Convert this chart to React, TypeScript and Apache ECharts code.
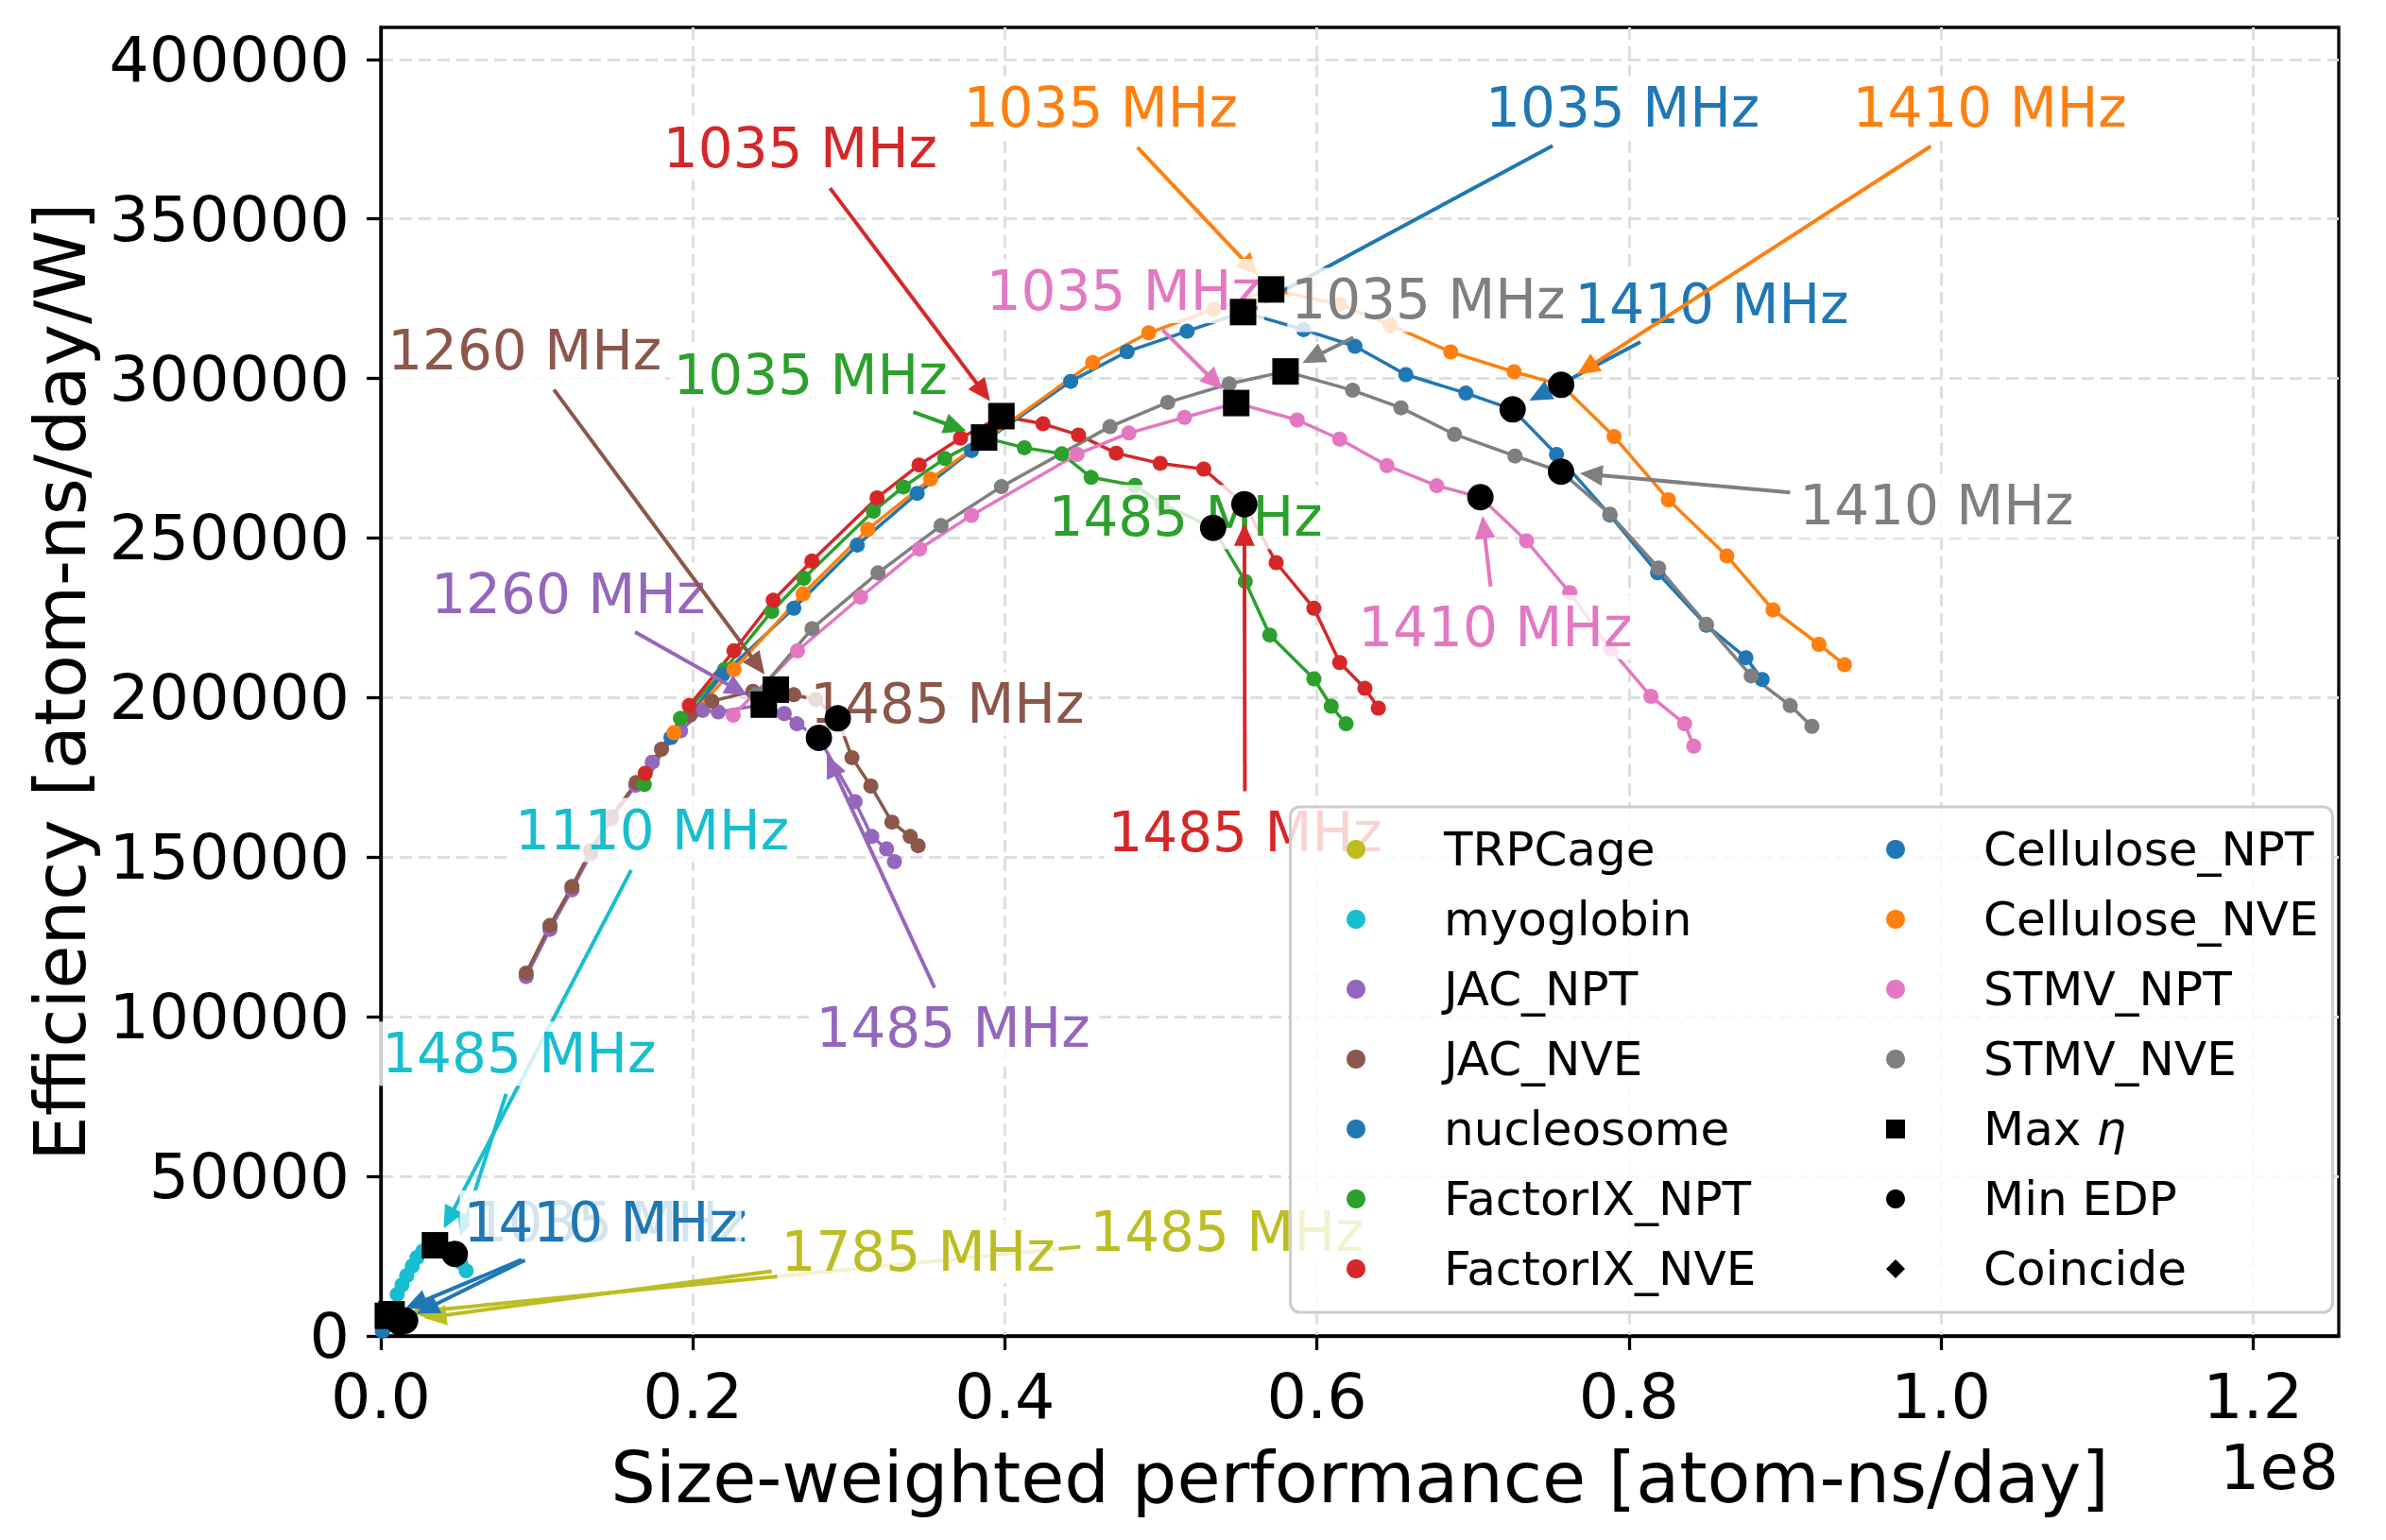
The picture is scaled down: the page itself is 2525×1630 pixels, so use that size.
import React, { useEffect, useRef } from 'react';
import * as echarts from 'echarts';

const FONT = '"DejaVu Sans", "Liberation Sans", sans-serif';

// ---- datasets (performance in units of 1e8 atom-ns/day, efficiency in atom-ns/day/W)
const DATASETS = ['TRPCage', 'myoglobin', 'JAC_NPT', 'JAC_NVE', 'nucleosome', 'FactorIX_NPT', 'FactorIX_NVE', 'Cellulose_NPT', 'Cellulose_NVE', 'STMV_NPT', 'STMV_NVE'];
const COLORS = ['#bcbd22', '#17becf', '#9467bd', '#8c564b', '#1f77b4', '#2ca02c', '#d62728', '#1f77b4', '#ff7f0e', '#e377c2', '#7f7f7f'];

const trpcagePerf = [0.0015, 0.003, 0.0045, 0.0058, 0.0069, 0.008, 0.0095, 0.011, 0.0125, 0.014, 0.0156, 0.017, 0.018];
const trpcageEff = [2000, 3500, 5000, 6000, 6800, 6700, 6400, 6000, 5600, 5200, 4800, 4300, 3900];

const myoglobinPerf = [0.0105, 0.0136, 0.0166, 0.0202, 0.0232, 0.0269, 0.0305, 0.0347, 0.039, 0.0432, 0.0474, 0.0511, 0.0547];
const myoglobinEff = [13000, 16000, 18900, 21900, 24600, 26600, 27800, 28400, 28100, 27200, 25700, 23100, 20400];

const jacNptPerf = [0.0932, 0.1084, 0.1225, 0.1346, 0.1477, 0.1634, 0.174, 0.1921, 0.2062, 0.2163, 0.2455, 0.2586, 0.2667, 0.2808, 0.304, 0.3147, 0.3242, 0.3292];
const jacNptEff = [112600, 127400, 139800, 151100, 162000, 172600, 179800, 189600, 196000, 195500, 197800, 195000, 191800, 187400, 167400, 156500, 152600, 148600];

const jacNvePerf = [0.0932, 0.1084, 0.1225, 0.1346, 0.1479, 0.1637, 0.1799, 0.1982, 0.2122, 0.2385, 0.2532, 0.2647, 0.2788, 0.2929, 0.302, 0.3141, 0.3276, 0.3393, 0.3444];
const jacNveEff = [113700, 128600, 140800, 152100, 162700, 173400, 183800, 194500, 198900, 202000, 202500, 200900, 199400, 193500, 181200, 172300, 161000, 156500, 153600];

const nucleosomePerf = [0.001, 0.002, 0.003, 0.0045, 0.006, 0.008, 0.01, 0.012, 0.0135];
const nucleosomeEff = [1500, 3000, 4800, 6300, 6000, 5500, 5000, 4300, 3600];

const fixNptPerf = [0.1689, 0.1921, 0.2203, 0.2506, 0.2711, 0.3157, 0.3349, 0.3615, 0.3867, 0.4125, 0.4365, 0.4553, 0.4835, 0.5007, 0.5335, 0.5541, 0.5698, 0.5981, 0.6092, 0.6187];
const fixNptEff = [172800, 193500, 208800, 227000, 237400, 258400, 266000, 274900, 281500, 278300, 276400, 269000, 266500, 260700, 253200, 236400, 219600, 205900, 197300, 191800];

const fixNvePerf = [0.1695, 0.1977, 0.2264, 0.2515, 0.2763, 0.3181, 0.345, 0.3716, 0.3978, 0.4244, 0.4472, 0.4714, 0.4996, 0.5275, 0.5535, 0.5739, 0.5981, 0.6146, 0.6308, 0.6394];
const fixNveEff = [176300, 197500, 214700, 230500, 242800, 262600, 272900, 281300, 288200, 285800, 282300, 276600, 273400, 271600, 260600, 242300, 228000, 211000, 202900, 196700];

const celNptPerf = [0.186, 0.2193, 0.2647, 0.3054, 0.3438, 0.3786, 0.4422, 0.4783, 0.5168, 0.5527, 0.5914, 0.6244, 0.657, 0.6955, 0.7255, 0.7536, 0.7878, 0.8184, 0.8496, 0.875, 0.8854];
const celNptEff = [187500, 207300, 228000, 247800, 264000, 277400, 299100, 308400, 314800, 320800, 315300, 310100, 301200, 295400, 290300, 276200, 257200, 239100, 222700, 212500, 205700];

const celNvePerf = [0.188, 0.2264, 0.2707, 0.3121, 0.3524, 0.4563, 0.4922, 0.534, 0.5707, 0.6146, 0.6471, 0.6858, 0.7264, 0.7566, 0.7905, 0.8253, 0.8628, 0.8924, 0.9218, 0.9382];
const celNveEff = [189000, 208800, 232500, 252700, 268500, 305000, 314300, 321700, 327900, 323200, 316800, 308300, 302100, 298000, 281800, 262000, 244400, 227500, 216700, 210300];

const stmvNptPerf = [0.2259, 0.2671, 0.3075, 0.3453, 0.3786, 0.4462, 0.4795, 0.5152, 0.5483, 0.5874, 0.6146, 0.6449, 0.6768, 0.7048, 0.7344, 0.7621, 0.7881, 0.8141, 0.8357, 0.8416];
const stmvNptEff = [194500, 214700, 231500, 246600, 257100, 276200, 282900, 287800, 292300, 287000, 281000, 272700, 266400, 262800, 249100, 232900, 215300, 200400, 191800, 184800];

const stmvNvePerf = [0.2405, 0.2764, 0.3187, 0.3591, 0.3978, 0.4674, 0.5044, 0.5438, 0.5799, 0.6229, 0.6539, 0.6882, 0.727, 0.7565, 0.7878, 0.819, 0.8496, 0.8784, 0.9034, 0.9173];
const stmvNveEff = [200900, 221600, 239100, 253900, 266100, 284900, 292500, 298300, 302200, 296300, 290800, 282500, 275700, 270800, 257500, 240600, 223000, 206800, 197500, 191000];

const PERF = [trpcagePerf, myoglobinPerf, jacNptPerf, jacNvePerf, nucleosomePerf, fixNptPerf, fixNvePerf, celNptPerf, celNvePerf, stmvNptPerf, stmvNvePerf];
const EFF = [trpcageEff, myoglobinEff, jacNptEff, jacNveEff, nucleosomeEff, fixNptEff, fixNveEff, celNptEff, celNveEff, stmvNptEff, stmvNveEff];

// index of the Max eta point and of the Min EDP point in each dataset
const MAX_ETA_IDX = [4, 7, 10, 10, 3, 8, 8, 9, 8, 8, 8];
const MIN_EDP_IDX = [10, 10, 13, 13, 7, 14, 14, 14, 13, 13, 13];
const MAX_ETA_FREQ = ['1485 MHz', '1110 MHz', '1260 MHz', '1260 MHz', '1035 MHz', '1035 MHz', '1035 MHz', '1035 MHz', '1035 MHz', '1035 MHz', '1035 MHz'];
const MIN_EDP_FREQ = ['1785 MHz', '1485 MHz', '1485 MHz', '1485 MHz', '1410 MHz', '1485 MHz', '1485 MHz', '1410 MHz', '1410 MHz', '1410 MHz', '1410 MHz'];
// annotation text positions (data coordinates)
const MAX_LABEL_POS = [[0.5423, 32430], [0.1739, 158500], [0.1201, 232400], [0.0922, 308900], [0.147, 35510], [0.2753, 301000], [0.2689, 372000], [0.796, 384700], [0.4614, 384700], [0.4759, 327400], [0.6713, 324600]];
const MIN_LABEL_POS = [[0.3444, 26480], [0.0886, 88470], [0.3668, 96520], [0.363, 197960], [0.1409, 35510], [0.5158, 256600], [0.5539, 157900], [0.8531, 323200], [1.0313, 384700], [0.7143, 222100], [0.9972, 260100]];

const X_TICKS = [0, 0.2, 0.4, 0.6, 0.8, 1.0, 1.2];
const Y_TICKS = [0, 50000, 100000, 150000, 200000, 250000, 300000, 350000, 400000];

export default function App() {
  const ref = useRef<HTMLDivElement>(null);
  useEffect(() => {
    if (!ref.current) return;
    const chart = echarts.init(ref.current, null, { renderer: 'svg' });

    const lineSeries = DATASETS.map((name, i) => ({
      type: 'line',
      name,
      data: PERF[i].map((x, j) => [x, EFF[i][j]]),
      color: COLORS[i],
      symbol: 'circle',
      symbolSize: 16,
      lineStyle: { width: 3.5, color: COLORS[i] },
      itemStyle: { color: COLORS[i], opacity: 1 },
      silent: true,
      z: 2,
    }));
    const maxSeries = {
      type: 'scatter', name: 'Max η', symbol: 'rect', symbolSize: 28, color: '#000', itemStyle: { color: '#000', opacity: 1 }, z: 100, silent: true,
      data: DATASETS.map((_, i) => [PERF[i][MAX_ETA_IDX[i]], EFF[i][MAX_ETA_IDX[i]]]),
    };
    const minSeries = {
      type: 'scatter', name: 'Min EDP', symbol: 'circle', symbolSize: 28, color: '#000', itemStyle: { color: '#000', opacity: 1 }, z: 100, silent: true,
      data: DATASETS.map((_, i) => [PERF[i][MIN_EDP_IDX[i]], EFF[i][MIN_EDP_IDX[i]]]),
    };
    const coincideSeries = { type: 'scatter', name: 'Coincide', symbol: 'diamond', symbolSize: 28, color: '#000', itemStyle: { color: '#000', opacity: 1 }, data: [], z: 100 };

    const legendCommon = {
      orient: 'vertical', top: 874, itemWidth: 20, itemHeight: 20, itemGap: 24, padding: 0, selectedMode: false, z: 200,
      itemStyle: { opacity: 1 },
      formatter: (n: string) => (n === 'Max η' ? 'Max {i|η}' : n),
      textStyle: { fontSize: 50, fontFamily: FONT, color: '#000', lineHeight: 50, padding: [0, 0, 0, 78], rich: { i: { fontStyle: 'italic', fontSize: 50, fontFamily: FONT, color: '#000' } } },
    };

    chart.setOption({
      animation: false,
      backgroundColor: '#fff',
      grid: { left: 403, right: 50, top: 29, bottom: 216, show: true, borderColor: '#000', borderWidth: 3.3, containLabel: false, outerBoundsMode: 'none' },
      xAxis: {
        type: 'value', min: 0, max: 1.255, interval: 0.2,
        axisLine: { show: true, onZero: false, lineStyle: { color: '#000', width: 3.3 } },
        axisTick: { show: true, length: 15, lineStyle: { color: '#000', width: 3.3 }, customValues: X_TICKS },
        axisLabel: { customValues: X_TICKS, formatter: (v: number) => v.toFixed(1), fontSize: 66.7, fontFamily: FONT, color: '#000', margin: 30 },
        splitLine: { show: true, lineStyle: { color: '#dedede', width: 3, type: [13, 7] } },
        name: 'Size-weighted performance [atom-ns/day]', nameLocation: 'middle', nameGap: 112,
        nameTextStyle: { fontSize: 75, fontFamily: FONT, color: '#000' },
      },
      yAxis: {
        type: 'value', min: 0, max: 410000, interval: 50000,
        axisLine: { show: true, onZero: false, lineStyle: { color: '#000', width: 3.3 } },
        axisTick: { show: true, length: 15, lineStyle: { color: '#000', width: 3.3 }, customValues: Y_TICKS },
        axisLabel: { customValues: Y_TICKS, formatter: (v: number) => String(v), fontSize: 66.7, fontFamily: FONT, color: '#000', margin: 33 },
        splitLine: { show: true, lineStyle: { color: '#dedede', width: 3, type: [13, 7] } },
        name: 'Efficiency [atom-ns/day/W]', nameLocation: 'middle', nameGap: 302,
        nameTextStyle: { fontSize: 75, fontFamily: FONT, color: '#000' },
      },
      legend: [
        { ...legendCommon, left: 1425, data: DATASETS.slice(0, 7).map((n) => ({ name: n, icon: 'circle' })) },
        {
          ...legendCommon, left: 1996,
          data: [...DATASETS.slice(7).map((n) => ({ name: n, icon: 'circle' })), { name: 'Max η', icon: 'rect' }, { name: 'Min EDP', icon: 'circle' }, { name: 'Coincide', icon: 'diamond' }],
        },
      ],
      series: [...lineSeries, maxSeries, minSeries, coincideSeries],
    });

    const px = (p: number[]) => chart.convertToPixel({ gridIndex: 0 }, p) as number[];
    const graphics: any[] = [];
    let z = 10;
    DATASETS.forEach((_, i) => {
      const color = COLORS[i];
      const anns: [number[], string, number][] = [
        [MAX_LABEL_POS[i], MAX_ETA_FREQ[i], MAX_ETA_IDX[i]],
        [MIN_LABEL_POS[i], MIN_EDP_FREQ[i], MIN_EDP_IDX[i]],
      ];
      anns.forEach(([pos, label, idx]) => {
        const T = px(pos);
        const P = px([PERF[i][idx], EFF[i][idx]]);
        const dx = P[0] - T[0];
        const dy = P[1] - T[1];
        const len = Math.hypot(dx, dy);
        const ux = dx / len;
        const uy = dy / len;
        const hw = 149;
        const hh = 37;
        const tExit = Math.min(Math.abs(ux) > 1e-6 ? hw / Math.abs(ux) : 1e9, Math.abs(uy) > 1e-6 ? hh / Math.abs(uy) : 1e9);
        const s = tExit + 6;
        const tipD = len - 20;
        if (tipD > s + 10) {
          const L = 24;
          const W = 11;
          const tip = [T[0] + ux * tipD, T[1] + uy * tipD];
          const base = [tip[0] - ux * L, tip[1] - uy * L];
          const nx = -uy;
          const ny = ux;
          graphics.push({
            type: 'line', z, silent: true,
            shape: { x1: T[0] + ux * s, y1: T[1] + uy * s, x2: base[0] + ux * 3, y2: base[1] + uy * 3 },
            style: { stroke: color, lineWidth: 4 },
          });
          graphics.push({
            type: 'polygon', z, silent: true,
            shape: { points: [tip, [base[0] + nx * W, base[1] + ny * W], [base[0] - nx * W, base[1] - ny * W]] },
            style: { fill: color },
          });
        }
        graphics.push({
          type: 'text', z: z + 0.5, silent: true,
          style: {
            text: label, x: T[0], y: T[1], align: 'center', verticalAlign: 'middle',
            fill: color, fontSize: 58, fontFamily: FONT, lineHeight: 64,
            backgroundColor: 'rgba(255,255,255,0.8)', padding: [2, 4],
          },
        });
        z += 1;
      });
    });
    // legend frame
    graphics.push({
      type: 'rect', z: 150, silent: true,
      shape: { x: 1365.5, y: 854, width: 1103, height: 535, r: 10 },
      style: { fill: 'rgba(255,255,255,0.8)', stroke: '#cccccc', lineWidth: 3 },
    });
    // axis offset text
    graphics.push({
      type: 'text', z: 5, silent: true,
      style: { text: '1e8', x: 2475, y: 1553, align: 'right', verticalAlign: 'middle', fill: '#000', fontSize: 66.7, fontFamily: FONT },
    });
    chart.setOption({ graphic: graphics });

    return () => chart.dispose();
  }, []);
  return <div ref={ref} style={{ position: 'absolute', left: 0, top: 0, width: 2525, height: 1630 }} />;
}
